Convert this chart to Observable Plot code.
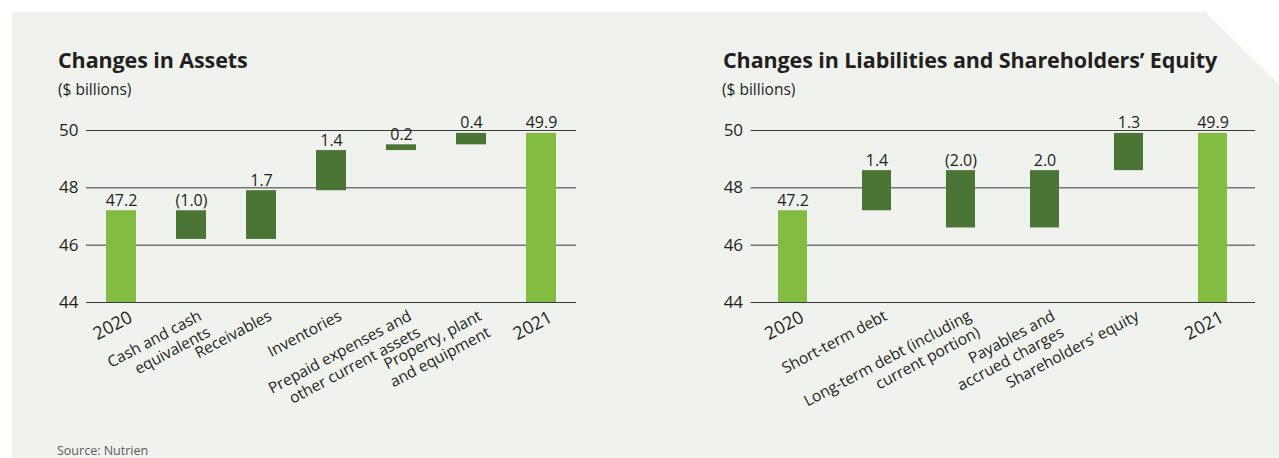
<!DOCTYPE html>
<html><head><meta charset="utf-8">
<script src="https://cdn.jsdelivr.net/npm/d3@7"></script>
<script src="https://cdn.jsdelivr.net/npm/@observablehq/plot@0.6"></script>
<style>
html,body{margin:0;padding:0;background:#fff;}
body{width:1279px;height:458px;position:relative;overflow:hidden;font-family:"Open Sans","Noto Sans",sans-serif;color:#231f20;}
#panel{position:absolute;left:12px;top:12px;width:1267px;height:446px;background:#f0f2ee;clip-path:polygon(0 0,1193px 0,1267px 72px,1267px 446px,0 446px);}
.title{position:absolute;font-weight:700;font-size:21.5px;line-height:1;white-space:nowrap;letter-spacing:-0.1px;}
.sub{position:absolute;font-size:15.5px;line-height:1;white-space:nowrap;}
.src{position:absolute;font-size:12.5px;line-height:1;color:#5a5a5a;white-space:nowrap;}
.chart{position:absolute;top:100px;}
</style></head>
<body>
<div id="panel"></div>
<div class="title" style="left:58px;top:49px">Changes in Assets</div>
<div class="sub" style="left:58px;top:82px">($ billions)</div>
<div class="title" style="left:723px;top:49px">Changes in Liabilities and Shareholders’ Equity</div>
<div class="sub" style="left:722px;top:82px">($ billions)</div>
<div class="src" style="left:57px;top:445px">Source: Nutrien</div>
<div id="left" class="chart" style="left:0px"></div>
<div id="right" class="chart" style="left:640px"></div>
<script>
const yTicks = [44, 46, 48, 50];

const assetCats = ["2020", "Cash and cash equivalents", "Receivables", "Inventories", "Prepaid expenses and other current assets", "Property, plant and equipment", "2021"];
const assetTickLabels = ["2020", "Cash and cash\nequivalents", "Receivables", "Inventories", "Prepaid expenses and\nother current assets", "Property, plant\nand equipment", "2021"];
const assetValues = [47.2, -1.0, 1.7, 1.4, 0.2, 0.4, 49.9];
const assetIsTotal = [true, false, false, false, false, false, true];

const liabCats = ["2020", "Short-term debt", "Long-term debt (including current portion)", "Payables and accrued charges", "Shareholders’ equity", "2021"];
const liabTickLabels = ["2020", "Short-term debt", "Long-term debt (including\ncurrent portion)", "Payables and\naccrued charges", "Shareholders’ equity", "2021"];
const liabValues = [47.2, 1.4, -2.0, 2.0, 1.3, 49.9];
const liabIsTotal = [true, false, false, false, false, true];

const LIGHT = "#82bc41", DARK = "#4a7535";
const FONT = "'Open Sans', 'Noto Sans', sans-serif";

function waterfall(cats, values, isTotal) {
  let run = 0;
  return cats.map((c, i) => {
    let y1, y2;
    if (isTotal[i]) { y1 = 0; y2 = values[i]; run = values[i]; }
    else { y1 = run; y2 = run + values[i]; run = y2; }
    return {cat: c, y1, y2, top: Math.max(y1, y2), value: values[i], total: isTotal[i]};
  });
}
const fmt = v => v < 0 ? `(${Math.abs(v).toFixed(1)})` : v.toFixed(1);

function draw(el, cats, labels, values, isTotal, opts) {
  const data = waterfall(cats, values, isTotal);
  const labelOf = new Map(cats.map((c, i) => [c, labels[i]]));
  const chart = Plot.plot({
    width: opts.width, height: 310,
    marginLeft: opts.marginLeft, marginRight: opts.marginRight, marginTop: 30, marginBottom: 108,
    style: {fontFamily: FONT, fontSize: "16px", color: "#231f20", background: "transparent", overflow: "visible"},
    x: {domain: cats, paddingInner: opts.pad, paddingOuter: opts.pad / 2, axis: null},
    y: {domain: [44, 50], axis: null},
    marks: [
      Plot.ruleY(yTicks, {stroke: "#3a3a3a", strokeWidth: 1}),
      Plot.barY(data, {x: "cat", y1: "y1", y2: "y2", fill: d => d.total ? LIGHT : DARK, clip: true}),
      Plot.text(data, {x: "cat", y: "top", text: d => fmt(d.value), dy: -5, lineAnchor: "bottom", fontSize: 16, fill: "#231f20"}),
      Plot.axisY({ticks: yTicks, tickSize: 0, tickPadding: 8, fontSize: 17, label: null, tickFormat: d => String(d)}),
      Plot.axisX({tickSize: 0, tickPadding: 5, tickRotate: -28, fontSize: d => /^\d+$/.test(d) ? 18 : 15.5, lineHeight: 1.2, label: null, dx: 5, textAnchor: "end", lineAnchor: "top", tickFormat: d => labelOf.get(d)})
    ]
  });
  document.getElementById(el).appendChild(chart);
}

draw("left", assetCats, assetTickLabels, assetValues, assetIsTotal, {width: 640, marginLeft: 86, marginRight: 64, pad: 0.5714});
draw("right", liabCats, liabTickLabels, liabValues, liabIsTotal, {width: 639, marginLeft: 110.6, marginRight: 24, pad: 0.655});
</script>
</body></html>
